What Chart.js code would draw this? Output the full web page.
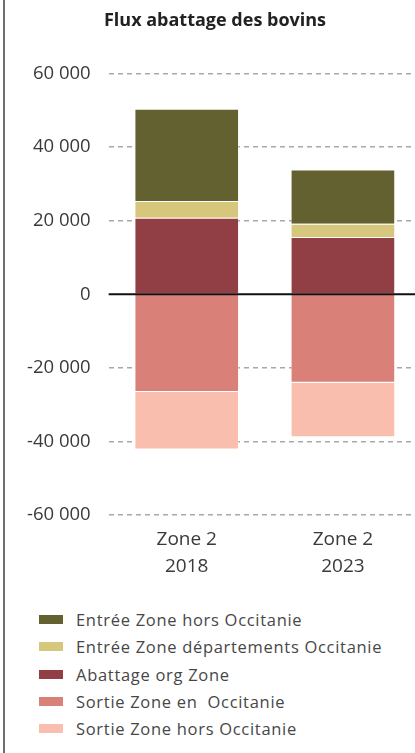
<!DOCTYPE html>
<html>
<head>
<meta charset="utf-8">
<script src="https://cdn.jsdelivr.net/npm/chart.js@4"></script>
<style>
  body { margin: 0; width: 415px; height: 753px; overflow: hidden; background: #fff; font-family: "Open Sans", sans-serif; position: relative; }
  #edge { position: absolute; left: 3px; top: 0; width: 2px; height: 753px; background: #6e6e6e; }
  #wrap { position: absolute; left: 9px; top: 0; width: 412px; height: 596px; }
  #legend { position: absolute; left: 39px; top: 606px; }
  .item { display: flex; align-items: center; height: 27.3px; font-size: 16.5px; letter-spacing: 0.7px; color: #474747; }
  .box { width: 24px; height: 9px; margin-right: 13px; flex: none; }
</style>
</head>
<body>
<div id="edge"></div>
<div id="wrap"><canvas id="chart"></canvas></div>
<div id="legend"></div>
<script>
const categories = [["Zone 2", "2018"], ["Zone 2", "2023"]];
const abattageOrg = [20850, 15600];
const entreeDepOccitanie = [4550, 3600];
const entreeHorsOccitanie = [25050, 14750];
const sortieEnOccitanie = [-26500, -24000];
const sortieHorsOccitanie = [-15650, -14800];
const yTicks = [-60000, -40000, -20000, 0, 20000, 40000, 60000];

// stacking order (bottom first), legend uses its own order
const series = [
  { label: "Abattage org Zone", data: abattageOrg, color: "#913e45", legend: 2 },
  { label: "Entrée Zone départements Occitanie", data: entreeDepOccitanie, color: "#d6c77d", legend: 1 },
  { label: "Entrée Zone hors Occitanie", data: entreeHorsOccitanie, color: "#636130", legend: 0 },
  { label: "Sortie Zone en  Occitanie", data: sortieEnOccitanie, color: "#d98079", legend: 3 },
  { label: "Sortie Zone hors Occitanie", data: sortieHorsOccitanie, color: "#fabeae", legend: 4 },
];

function fmt(v) {
  let s = Math.abs(v).toString().replace(/\B(?=(\d{3})+(?!\d))/g, " ");
  return (v < 0 ? "-" : "") + s;
}

const zeroLine = {
  id: "zeroLine",
  afterDatasetsDraw(chart) {
    const { ctx, chartArea, scales } = chart;
    const y = scales.y.getPixelForValue(0);
    ctx.save();
    ctx.strokeStyle = "#111";
    ctx.lineWidth = 2;
    ctx.beginPath();
    ctx.moveTo(chartArea.left, y);
    ctx.lineTo(chartArea.right, y);
    ctx.stroke();
    ctx.restore();
  },
};

new Chart(document.getElementById("chart"), {
  type: "bar",
  data: {
    labels: categories,
    datasets: series.map((s) => ({
      label: s.label,
      data: s.data,
      backgroundColor: s.color,
      borderColor: "rgba(255,255,255,0.35)",
      borderWidth: 1,
      barPercentage: 1,
      categoryPercentage: 0.67,
    })),
  },
  options: {
    responsive: true,
    maintainAspectRatio: false,
    animation: false,
    layout: { padding: { left: 0, right: 0, top: 0, bottom: 13 } },
    plugins: {
      legend: { display: false },
      tooltip: { enabled: false },
      title: {
        display: true,
        text: "Flux abattage des bovins",
        color: "#222",
        font: { family: "Open Sans", size: 18, weight: "bold" },
        padding: { top: 10, bottom: 42 },
      },
    },
    scales: {
      x: {
        stacked: true,
        grid: { display: false },
        border: { display: false },
        ticks: {
          color: "#3a3a3a",
          padding: 2,
          font: { family: "Open Sans", size: 19, lineHeight: 1.47 },
        },
      },
      y: {
        stacked: true,
        min: -60000,
        max: 60000,
        afterBuildTicks: (axis) => {
          axis.ticks = yTicks.map((v) => ({ value: v }));
        },
        grid: {
          drawTicks: false,
          color: (ctx) => (ctx.tick && ctx.tick.value === 0 ? "rgba(0,0,0,0)" : "#a8a8a8"),
          lineWidth: 1.5,
        },
        border: { display: false, dash: [5, 4] },
        ticks: {
          color: "#3a3a3a",
          padding: 18,
          font: { family: "Open Sans", size: 18.5 },
          callback: (v) => fmt(v),
        },
      },
    },
  },
  plugins: [zeroLine],
});

const legendEl = document.getElementById("legend");
series
  .slice()
  .sort((a, b) => a.legend - b.legend)
  .forEach((s) => {
    const row = document.createElement("div");
    row.className = "item";
    const box = document.createElement("span");
    box.className = "box";
    box.style.background = s.color;
    const txt = document.createElement("span");
    txt.textContent = s.label;
    txt.style.whiteSpace = "pre";
    row.appendChild(box);
    row.appendChild(txt);
    legendEl.appendChild(row);
  });
</script>
</body>
</html>
